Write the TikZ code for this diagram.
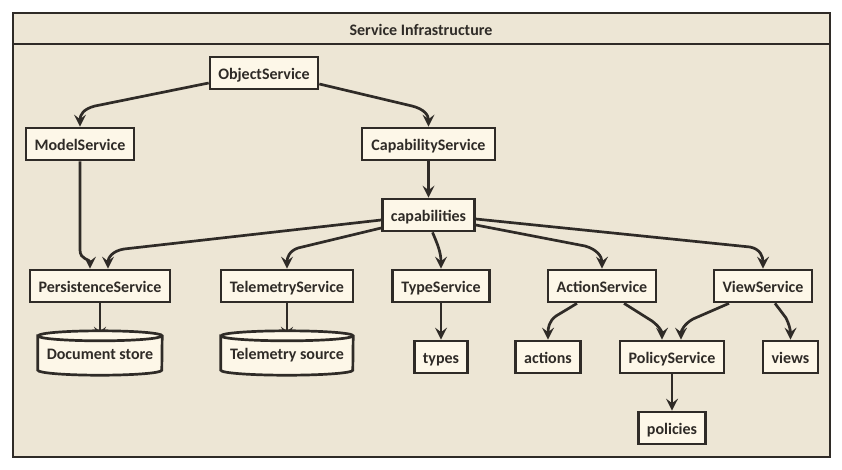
\documentclass[tikz,border=0pt]{standalone}
\usepackage{fontspec}
\setmainfont{Carlito}
\usetikzlibrary{arrows.meta,calc}
\definecolor{bgc}{HTML}{EDE6D5}
\definecolor{nodef}{HTML}{FDF7E8}
\definecolor{ink}{HTML}{2F2B27}
\pgfdeclarelayer{back}
\pgfdeclarelayer{conn}
\pgfdeclarelayer{cyl}
\pgfsetlayers{back,conn,cyl,main}
\newcommand\dbcyl[2]{%
 \begin{pgfonlayer}{cyl}
 \draw[ink, fill=nodef, line width=2.7pt] ($(#1.north west)+(0,5)$) -- ($(#1.south west)+(0,-5)$)
   arc[start angle=180, end angle=0, x radius=#2, y radius=5] -- ($(#1.north east)+(0,5)$)
   arc[start angle=0, end angle=-180, x radius=#2, y radius=5] -- cycle;
 \draw[ink, line width=2.7pt] ($(#1.north west)+(0,5)$) arc[start angle=180, end angle=0, x radius=#2, y radius=5];
 \end{pgfonlayer}}
\begin{document}
\begin{tikzpicture}[x=1pt,y=-1pt,
  lbl/.style={font=\bfseries\fontsize{16}{19}\selectfont, text=ink, text height=14pt, text depth=1pt},
  svc/.style={lbl, draw=ink, fill=nodef, line width=2.7pt, minimum height=32pt, inner sep=0pt},
  dbnode/.style={lbl, inner sep=0pt, minimum height=44pt},
  conn/.style={draw=ink, line width=2.7pt, -{Stealth[length=12pt,width=12pt,inset=4.5pt]}},
]
\useasboundingbox (0,0) rectangle (842,469);
\begin{pgfonlayer}{back}
\draw[ink, fill=bgc, line width=2.7pt] (13,13) rectangle (830,457);
\draw[ink, line width=2.7pt] (13,44) -- (830,44);
\end{pgfonlayer}
\node[lbl] (title) at (421,29) {Service Infrastructure};

\node[svc, minimum width=108pt] (os) at (264,73) {ObjectService};
\node[svc, minimum width=108pt] (ms) at (80,144) {ModelService};
\node[svc, minimum width=133pt] (cs) at (428.5,144) {CapabilityService};
\node[svc, minimum width=92pt] (cap) at (428.5,215) {capabilities};
\node[svc, minimum width=140pt] (ps) at (100,286) {PersistenceService};
\node[svc, minimum width=132pt] (ts) at (287,286) {TelemetryService};
\node[svc, minimum width=97pt] (ty) at (441,286) {TypeService};
\node[svc, minimum width=108pt] (as) at (602,286) {ActionService};
\node[svc, minimum width=98pt] (vs) at (763,286) {ViewService};
\node[dbnode, minimum width=124pt] (ds) at (100,353) {Document store};
\node[dbnode, minimum width=132pt] (tsrc) at (287,353) {Telemetry source};
\node[svc, minimum width=53pt] (types) at (441,357) {types};
\node[svc, minimum width=65pt] (ac) at (548,357) {actions};
\node[svc, minimum width=104pt] (pol) at (672,357) {PolicyService};
\node[svc, minimum width=55pt] (vw) at (790.5,357) {views};
\node[svc, minimum width=67pt] (poli) at (672,428) {policies};
\dbcyl{ds}{62}
\dbcyl{tsrc}{66}

\begin{pgfonlayer}{conn}
\draw[conn] ($(os.west)+(0,10)$) -- (95,106) .. controls (83,109) and (80,115) .. (ms.north);
\draw[conn] ($(os.east)+(0,11)$) -- (412,106) .. controls (424,109) and (428.5,115) .. (cs.north);
\draw[conn] (cs.south) -- (cap.north);
\draw[conn] (ms.south) -- (80,250) .. controls (80,260) and (90,259) .. ($(ps.north)+(-10,0)$);
\draw[conn] ($(cap.west)+(0,5)$) -- (124,249) .. controls (112,251) and (108,258) .. ($(ps.north)+(8,0)$);
\draw[conn] ($(cap.west)+(0,13)$) -- (298,248) .. controls (289,251) and (287,258) .. (ts.north);
\draw[conn] ($(cap.south)+(4,0)$) .. controls (437,243) and (441,252) .. (ty.north);
\draw[conn] ($(cap.east)+(0,10)$) -- (585,246) .. controls (596,249) and (602,256) .. (as.north);
\draw[conn] ($(cap.east)+(0,4)$) -- (750,247) .. controls (760,249) and (763,256) .. (vs.north);
\draw[conn] (ps.south) -- ($(ds.north)+(0,8)$);
\draw[conn] (ts.south) -- ($(tsrc.north)+(0,8)$);
\draw[conn] (ty.south) -- (types.north);
\draw[conn] ($(as.south)+(-25,0)$) -- (556,316) .. controls (549,321) and (548,328) .. (ac.north);
\draw[conn] ($(as.south)+(22,0)$) -- (652,321) .. controls (660,327) and (662,332) .. ($(pol.north)+(-10,0)$);
\draw[conn] ($(vs.south)+(-34,0)$) -- (693,319) .. controls (684,324) and (681,331) .. ($(pol.north)+(9,0)$);
\draw[conn] ($(vs.south)+(12,0)$) -- (786,318) .. controls (789,324) and (790.5,330) .. (vw.north);
\draw[conn] (pol.south) -- (poli.north);
\end{pgfonlayer}
\end{tikzpicture}
\end{document}
